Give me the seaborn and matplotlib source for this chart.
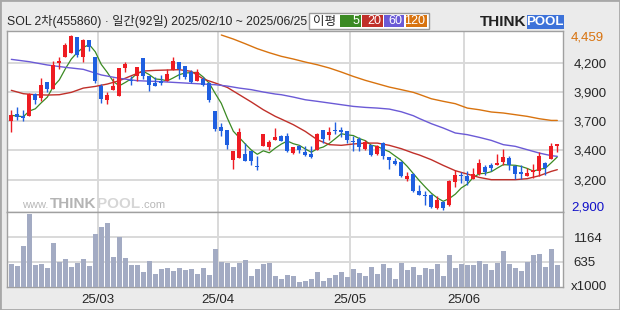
import numpy as np
import pandas as pd
import matplotlib
matplotlib.use("Agg")
import matplotlib.pyplot as plt
import matplotlib.transforms as mtransforms
from matplotlib.patches import Rectangle
import seaborn as sns

# ---------------- data ----------------
open_ = [3690, 3755, 3740, 3740, 3933, 3897, 4040, 3980, 4206, 4266,
         4301, 4441, 4260, 4411, 4260, 4007, 3882, 3972, 3918, 4165,
         4061, 4090, 4254, 4090, 4031, 4052, 4046, 4144, 4218, 4180,
         4126, 4052, 4067, 4031, 3779, 3639, 3612, 3348, 3363, 3398,
         3422, 3295, 3473, 3461, 3526, 3556, 3556, 3407, 3470, 3416,
         3401, 3437, 3612, 3565, 3606, 3615, 3600, 3511, 3532, 3446,
         3482, 3398, 3497, 3369, 3339, 3327, 3176, 3220, 3066, 3030,
         3036, 2917, 2968, 2947, 3149, 3214, 3199, 3179, 3220, 3283,
         3303, 3297, 3324, 3363, 3295, 3238, 3205, 3238, 3250, 3318,
         3354, 3473]
high = [3793, 3814, 3790, 3939, 3942, 4075, 4040, 4230, 4260, 4387,
        4459, 4441, 4423, 4411, 4260, 4022, 3948, 4075, 4165, 4218,
        4090, 4171, 4254, 4096, 4082, 4105, 4159, 4263, 4218, 4186,
        4150, 4153, 4082, 4037, 3779, 3675, 3612, 3422, 3630, 3496,
        3428, 3378, 3577, 3526, 3630, 3571, 3586, 3464, 3476, 3467,
        3467, 3586, 3612, 3639, 3681, 3639, 3606, 3556, 3550, 3520,
        3482, 3476, 3502, 3375, 3363, 3333, 3238, 3226, 3125, 3066,
        3042, 3027, 2983, 3170, 3259, 3238, 3244, 3274, 3354, 3297,
        3318, 3398, 3443, 3378, 3303, 3297, 3274, 3309, 3416, 3324,
        3496, 3488]
low = [3594, 3704, 3695, 3737, 3841, 3874, 3948, 3980, 4159, 4266,
       4301, 4260, 4218, 4313, 4031, 3850, 3847, 3972, 3918, 4126,
       4010, 4046, 4070, 3957, 4001, 4010, 4046, 4144, 4070, 4070,
       4031, 4046, 4007, 3862, 3606, 3556, 3443, 3268, 3363, 3339,
       3303, 3259, 3473, 3437, 3520, 3511, 3416, 3398, 3407, 3378,
       3363, 3437, 3496, 3526, 3577, 3547, 3496, 3428, 3428, 3437,
       3378, 3392, 3354, 3268, 3297, 3190, 3155, 3060, 3030, 2947,
       2917, 2911, 2900, 2932, 3104, 3140, 3125, 3179, 3214, 3208,
       3244, 3297, 3303, 3259, 3179, 3179, 3199, 3185, 3199, 3214,
       3354, 3416]
close = [3743, 3731, 3719, 3933, 3882, 4013, 3980, 4191, 4230, 4373,
         4450, 4278, 4411, 4355, 4052, 3885, 3924, 4007, 4165, 4200,
         4052, 4171, 4090, 4016, 4007, 4028, 4111, 4224, 4159, 4082,
         4040, 4129, 4010, 3880, 3624, 3606, 3476, 3422, 3595, 3339,
         3339, 3286, 3577, 3506, 3550, 3517, 3422, 3458, 3434, 3387,
         3372, 3577, 3535, 3594, 3600, 3591, 3526, 3505, 3461, 3506,
         3387, 3470, 3384, 3348, 3309, 3199, 3199, 3066, 3036, 3021,
         2926, 2986, 2917, 3161, 3214, 3205, 3155, 3220, 3318, 3238,
         3274, 3318, 3372, 3303, 3223, 3223, 3229, 3253, 3381, 3274,
         3467, 3488]
volume = [592, 549, 978, 1665, 571, 592, 506, 1043, 635, 699,
          528, 614, 699, 549, 1236, 1386, 1472, 735, 1164, 721,
          571, 571, 420, 656, 378, 485, 506, 442, 506, 471,
          485, 378, 506, 356, 914, 635, 614, 528, 614, 678,
          335, 485, 592, 614, 335, 270, 356, 335, 206, 227,
          270, 420, 227, 292, 356, 420, 313, 485, 399, 335,
          528, 378, 592, 506, 270, 614, 463, 528, 356, 506,
          485, 592, 335, 785, 506, 592, 571, 571, 656, 592,
          463, 614, 871, 592, 506, 442, 635, 785, 807, 528,
          914, 571]

ma20_day = [0, 2, 4, 6, 8, 10, 12, 14, 16, 18, 20, 22, 24, 26, 28, 30, 32, 34,
            36, 38, 40, 42, 44, 45, 47, 49, 51, 53, 55, 57, 59, 61, 63, 65,
            67, 68, 70, 72, 74, 76, 78, 80, 82, 84, 86, 88, 90, 91]
ma20_val = [3966, 3936, 3927, 3924, 3927, 3948, 3986, 4001, 4022, 4052, 4096,
            4138, 4144, 4147, 4150, 4135, 4067, 4031, 3992, 3927, 3862, 3793,
            3734, 3710, 3660, 3600, 3526, 3482, 3476, 3488, 3496, 3496, 3476,
            3446, 3407, 3390, 3348, 3297, 3250, 3220, 3190, 3170, 3170, 3170,
            3179, 3205, 3244, 3259]
ma60_day = [0, 3, 6, 9, 12, 15, 18, 21, 25, 29, 32, 34, 36, 38, 40, 42, 44, 45,
            47, 49, 51, 53, 55, 57, 59, 61, 63, 65, 67, 68, 70, 72, 74, 76, 78,
            80, 82, 84, 86, 88, 90, 91]
ma60_val = [4242, 4221, 4192, 4171, 4153, 4103, 4073, 4052, 4043, 4031, 4022,
            4016, 4004, 3986, 3972, 3951, 3933, 3927, 3906, 3882, 3868, 3853,
            3838, 3823, 3814, 3808, 3799, 3775, 3740, 3715, 3669, 3630, 3586,
            3571, 3547, 3520, 3482, 3467, 3437, 3407, 3384, 3378]
ma120_day = [35, 37, 39, 41, 43, 45, 47, 49, 51, 53, 55, 57, 59, 61, 63, 65, 67,
             68, 70, 72, 74, 76, 78, 80, 82, 84, 86, 88, 90, 91]
ma120_val = [4459, 4423, 4381, 4337, 4301, 4269, 4245, 4218, 4194, 4165, 4129,
             4090, 4055, 4025, 3995, 3972, 3948, 3930, 3891, 3868, 3847, 3808,
             3793, 3773, 3764, 3749, 3734, 3713, 3698, 3698]

price_grid = [4209, 3948, 3690, 3432, 3164]
price_grid_labels = ["4,200", "3,900", "3,700", "3,400", "3,200"]
vol_grid = [1164, 635]
month_pos = [14.5, 34.5, 56.5, 75.5]
month_labels = ["25/03", "25/04", "25/05", "25/06"]
title = "SOL 2차(455860) · 일간(92일) 2025/02/10 ~ 2025/06/25"
ma_names = ["5", "20", "60", "120"]

# ---------------- style ----------------
sns.set_style("white")
FONT = ['Liberation Sans', 'DejaVu Sans']
KFONT = ['Liberation Sans', 'Noto Sans CJK KR', 'DejaVu Sans']
plt.rcParams['font.family'] = FONT

RED = '#ee1c23'
BLUE = '#1f5fe0'
C5, C20, C60, C120 = '#3b8a23', '#c0302a', '#6b5ad6', '#d8730f'
VOLC = '#a3abc3'
GRID = '#d9d9d9'
SPINE = '#a0a0a0'
FS = 9

W, H = 620, 310
fig = plt.figure(figsize=(6.2, 3.1), dpi=100)
fig.patch.set_facecolor('#ebebeb')


def fx(px):
    return px / W


def fy(py):
    return 1 - py / H


L, R = 7.3, 562.7
ax = fig.add_axes([fx(L), fy(212), (R - L) / W, (212 - 31.3) / H])
axv = fig.add_axes([fx(L), fy(287.3), (R - L) / W, (287.3 - 212) / H])

df = pd.DataFrame(dict(day=np.arange(len(close)), o=open_, h=high, l=low,
                       c=close, v=volume))
up = df.c >= df.o
cols = np.where(up, RED, BLUE)

# moving averages
ma5 = df.c.rolling(5, min_periods=1).mean()
sns.lineplot(x=df.day, y=ma5, color=C5, lw=0.9, ax=ax, zorder=2)
sns.lineplot(x=ma20_day, y=ma20_val, color=C20, lw=1, ax=ax, zorder=2)
sns.lineplot(x=ma60_day, y=ma60_val, color=C60, lw=1, ax=ax, zorder=2)
sns.lineplot(x=ma120_day, y=ma120_val, color=C120, lw=1, ax=ax, zorder=2)

# candles
ax.vlines(df.day, df.l, df.h, colors=cols, lw=1, zorder=3)
body = (df.c - df.o).abs().clip(lower=9)
ax.bar(df.day, body, bottom=np.minimum(df.o, df.c), width=0.68, color=cols,
       lw=0, zorder=4)

# volume
axv.bar(df.day, df.v, width=0.74, color=VOLC, lw=0, zorder=3)

for a in (ax, axv):
    a.set_xlim(-0.67, 91.9)
    a.set_facecolor('white')
    a.set_axisbelow(True)
    for s in a.spines.values():
        s.set_color(SPINE)
        s.set_linewidth(1)
    a.set_xlabel("")
    a.set_ylabel("")
    a.set_xticks(month_pos)
    a.grid(True, color=GRID, lw=1.4)

ax.set_ylim(2882, 4492)
ax.set_yticks(price_grid)
ax.set_yticklabels(price_grid_labels)
ax.yaxis.tick_right()
ax.tick_params(axis='y', length=0, pad=8, labelsize=FS + 0.5)
ax.tick_params(axis='x', length=0, labelbottom=False)

tx = 1.0 + 8.3 / (R - L)
trans = mtransforms.blended_transform_factory(ax.transAxes, ax.transData)
ax.text(tx, 4440, "4,459", transform=trans, color='#d8730f', fontsize=FS + 0.5,
        va='center', ha='left')
ax.text(tx, 2925, "2,900", transform=trans, color='#1010c8',
        fontsize=FS + 0.5, va='center', ha='left')

axv.set_ylim(92, 1707)
axv.set_yticks(vol_grid)
axv.set_yticklabels([str(v) for v in vol_grid])
axv.yaxis.tick_right()
axv.tick_params(axis='y', length=0, pad=8, labelsize=FS + 0.5)
axv.set_xticklabels(month_labels)
axv.tick_params(axis='x', length=0, pad=5, labelsize=FS + 0.5)
axv.text(tx, 0.0, "x1000", transform=axv.transAxes,
         fontsize=FS + 0.5, va='center', ha='left')

# watermark
fig.text(fx(22), fy(205), "www.", color='#b8b8b8', fontsize=8, va='center')
fig.text(fx(49.5), fy(203.5), "THINK", color='#b4b4b4', fontsize=11,
         fontweight='bold', va='center')
fig.text(fx(97), fy(203.5), "POOL", color='#d6d6d6', fontsize=11,
         fontweight='bold', va='center')
fig.text(fx(140.5), fy(205), ".com", color='#b8b8b8', fontsize=8, va='center')

# header
fig.text(fx(7), fy(21.5), title, fontsize=8.8, va='center', ha='left',
         family=KFONT)

# MA legend box
fig.patches.append(Rectangle((fx(309), fy(29.3)), (429 - 309) / W, (29.3 - 12.7) / H,
                             transform=fig.transFigure, facecolor='white',
                             edgecolor='#999999', lw=1))
fig.text(fx(325), fy(21.3), "이평", fontsize=9, va='center', ha='center',
         family=['Noto Sans CJK KR', 'DejaVu Sans'])
boxes = [(340, 360.5, C5), (362, 382.6, C20), (384, 404, C60), (405.5, 427, C120)]
for (x0, x1, c), name in zip(boxes, ma_names):
    fig.patches.append(Rectangle((fx(x0), fy(27.3)), (x1 - x0) / W, (27.3 - 15) / H,
                                 transform=fig.transFigure, facecolor=c,
                                 edgecolor='none'))
    fig.text(fx(x1 - 1.5), fy(21.3), name, color='white', fontsize=FS,
             va='center', ha='right')

# logo
fig.text(fx(480), fy(22), "THINK", fontsize=11, fontweight='bold', color='#222222',
         va='center', ha='left')
fig.patches.append(Rectangle((fx(526.5), fy(29)), (564 - 526.5) / W, 14 / H,
                             transform=fig.transFigure, facecolor='#3d72d9',
                             edgecolor='none'))
fig.text(fx(545.2), fy(22), "POOL", fontsize=9.5, fontweight='bold', color='white',
         va='center', ha='center')

# outer border
fig.patches.append(Rectangle((0, 0), 1, 1, transform=fig.transFigure, fill=False,
                             edgecolor='#a8a8a8', lw=2))

fig.savefig("out.png", dpi=100, facecolor=fig.get_facecolor())
